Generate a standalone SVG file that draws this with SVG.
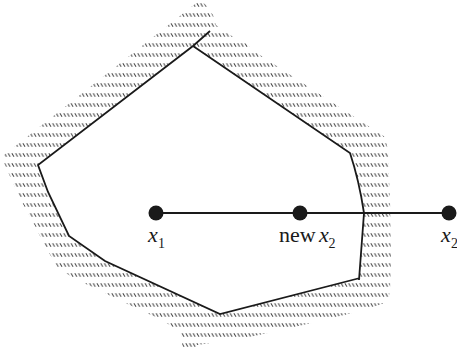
<svg xmlns="http://www.w3.org/2000/svg" width="457" height="355" viewBox="0 0 457 355">
<defs>
<pattern id="hatch" patternUnits="userSpaceOnUse" width="3.7" height="10">
<line x1="0.8" y1="3.2" x2="2.8" y2="6.8" stroke="#444" stroke-width="1"/>
</pattern>
<style>
.edge{fill:none;stroke:#1a1a1a;stroke-width:1.8;stroke-linejoin:miter}
.seg{stroke:#1a1a1a;stroke-width:2}
.dot{fill:#1a1a1a}
.lbl{font-family:"Liberation Serif","DejaVu Serif",serif;font-size:22px;fill:#1a1a1a}
.it{font-style:italic}
.sub{font-size:14px}
</style>
</defs>
<g id="hatching">
<path fill="url(#hatch)" fill-rule="evenodd" d="M200,0 L206,5 L213,15 L216,25 L230,35 L245,43 L260,55 L385,137 L388,150 L390,200 L391,260 L390,290 L388,302 L360,311 L320,321 L277,331 L240,339 L197,345 L196,353 L183,353 L181,332 L160,319 L138,309 L117,299 L97,289 L75,279 L58,268 L45,246 L35,226 L23,204 L13,183 L4,163 L4,155 Z M193,46 L350,153 Q359,180 364,213 L359,278 L220,314 L105,261 L69,236 L48,192 L38,165 Z"/>
</g>
<g id="region">
<path class="edge" d="M193,46 L350,153 Q359,180 364,213 L359,280 M360,278 L220,314 L105,261 L69,236 L48,192 L38,165 L193,46 L210,31"/>
</g>
<g id="connectors">
<line class="seg" x1="156" y1="213" x2="449" y2="213"/>
</g>
<g id="x1">
<circle class="dot" cx="156" cy="213" r="7.5"/>
<text class="lbl it" x="148" y="242">x</text>
<text class="lbl sub" x="158" y="248">1</text>
</g>
<g id="newx2">
<circle class="dot" cx="300" cy="213" r="7.5"/>
<text class="lbl" x="279" y="242">new</text>
<text class="lbl it" x="319" y="242">x</text>
<text class="lbl sub" x="328.5" y="248">2</text>
</g>
<g id="x2">
<circle class="dot" cx="449" cy="213" r="7.5"/>
<text class="lbl it" x="441" y="242">x</text>
<text class="lbl sub" x="451" y="248">2</text>
</g>
</svg>
